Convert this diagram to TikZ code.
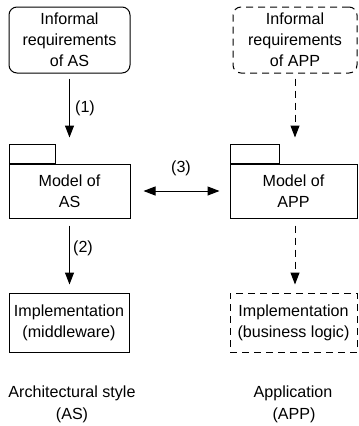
\documentclass[tikz,border=0pt]{standalone}
\usepackage{fontspec}
\setmainfont{Liberation Sans}
\usetikzlibrary{arrows.meta}
\begin{document}
\begin{tikzpicture}[x=1pt,y=-1pt,
  every node/.style={font=\fontsize{16.1}{21}\selectfont, inner sep=0pt, align=center},
  box/.style={draw, line width=1pt},
  dsh/.style={dash pattern=on 7pt off 5pt},
  rbox/.style={box, rounded corners=8pt},
  arr/.style={line width=1pt, -{Triangle[length=12pt,width=9pt]}},
  darr/.style={line width=1pt, {Triangle[length=12pt,width=9pt]}-{Triangle[length=12pt,width=9pt]}},
  lbl/.style={}]
\useasboundingbox (0,0) rectangle (359,426);
% top boxes
\node[rbox, minimum width=121pt, minimum height=66pt] (reqAS) at (69.5,40) {Informal\\requirements\\of AS};
\node[rbox, dsh, minimum width=124pt, minimum height=66pt] (reqAPP) at (295,40) {Informal\\requirements\\of APP};
% packages
\node[box, minimum width=121pt, minimum height=54pt] (modAS) at (69.5,191) {Model of\\AS};
\node[box, minimum width=46pt, minimum height=19pt, anchor=south west] (tabAS) at (modAS.north west) {};
\node[box, minimum width=127pt, minimum height=54pt] (modAPP) at (293.5,191) {Model of\\APP};
\node[box, minimum width=49pt, minimum height=19pt, anchor=south west] (tabAPP) at (modAPP.north west) {};
% implementations
\node[box, minimum width=120pt, minimum height=59pt] (impAS) at (69,322.5) {Implementation\\(middleware)};
\node[box, dsh, minimum width=127pt, minimum height=59pt] (impAPP) at (293.5,322.5) {Implementation\\(business logic)};
% arrows
\draw[arr, shorten <=5pt, shorten >=6pt] (reqAS.south) -- (reqAS.south |- tabAS.north);
\draw[arr, dsh, shorten <=5pt, shorten >=6pt] (reqAPP.south) -- (reqAPP.south |- tabAPP.north);
\draw[arr, shorten <=7pt, shorten >=8pt] (modAS.south) -- (modAS.south |- impAS.north);
\draw[arr, dsh, shorten <=7pt, shorten >=8pt] (modAS.south -| reqAPP.south) -- (reqAPP.south |- impAPP.north);
\draw[darr, shorten <=13pt, shorten >=10pt] (modAS.east) -- (modAPP.west);
% labels
\node[lbl] (l1) at (85,108) {(1)};
\node[lbl] (l2) at (83,248) {(2)};
\node[lbl] (l3) at (181,168) {(3)};
\node (asA) at (72,393) {Architectural style};
\node (asB) at (72,415) {(AS)};
\node (apA) at (293,393) {Application};
\node (apB) at (294,415) {(APP)};
\end{tikzpicture}
\end{document}
